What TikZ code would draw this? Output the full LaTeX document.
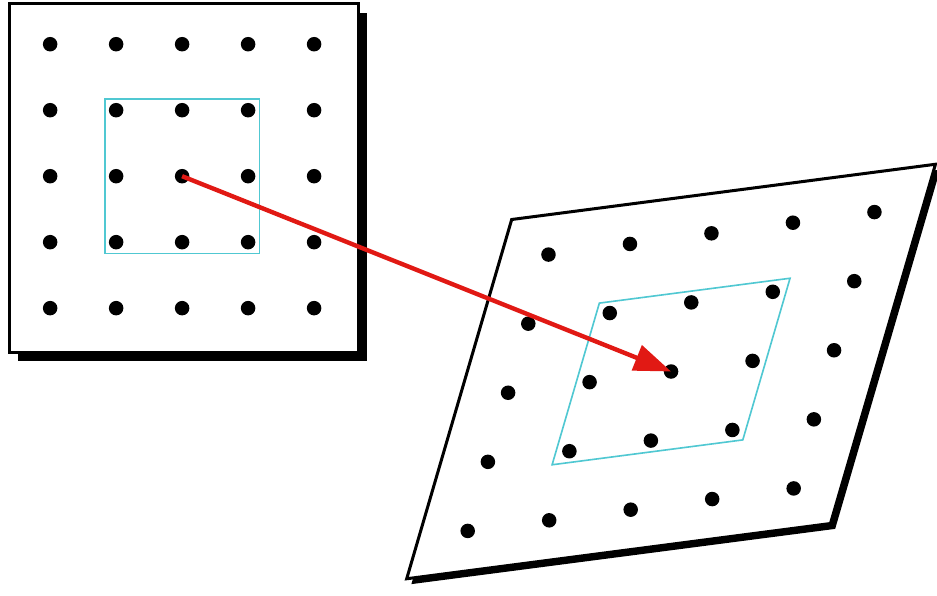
\documentclass[tikz,border=0pt]{standalone}
\usepackage{tikz}
\usetikzlibrary{arrows.meta}
\definecolor{turkiz}{RGB}{80,200,210}
\definecolor{piros}{RGB}{225,25,20}
\tikzset{
  rpont/.style={circle,fill,inner sep=0pt,minimum size=2.2mm},
  lap/.style={draw,line width=1.3pt,fill=white},
  arnyek/.style={fill=black},
  keret/.style={draw=turkiz,line width=0.7pt},
  lekep/.style={draw=piros,line width=1.9pt,-{Triangle[length=5.6mm,width=4mm]}},
}
\begin{document}
\begin{tikzpicture}
  \useasboundingbox (0,0) rectangle (14.2,-9.03);
  \begin{scope}[shift={(2.76,-2.67)}]
    \fill[arnyek] (-2.48,-2.8) rectangle (2.8,2.48);
    \path[lap] (-2.61,-2.67) rectangle (2.67,2.61);
    \path[keret] (-1.17,-1.17) rectangle (1.17,1.17);
    \foreach \i in {0,...,4}
      \foreach \j in {0,...,4}
        \node[rpont] (a\i\j) at (\i-2,\j-2) {};
  \end{scope}
  \begin{scope}[cm={1.235,0.161,0.306,1.047,(10.17,-5.63)}]
    \fill[arnyek] (-2.52,-2.69) -- (2.68,-2.69) -- (2.68,2.51) -- (-2.52,2.51) -- cycle;
    \path[lap] (-2.6,-2.6) -- (2.6,-2.6) -- (2.6,2.6) -- (-2.6,2.6) -- cycle;
    \path[keret] (-1.17,-1.17) -- (1.17,-1.17) -- (1.17,1.17) -- (-1.17,1.17) -- cycle;
    \foreach \i in {0,...,4}
      \foreach \j in {0,...,4}
        \node[rpont] (b\i\j) at (\i-2,\j-2) {};
  \end{scope}
  \draw[lekep] (a22.center) -- (b22.center);
\end{tikzpicture}
\end{document}
